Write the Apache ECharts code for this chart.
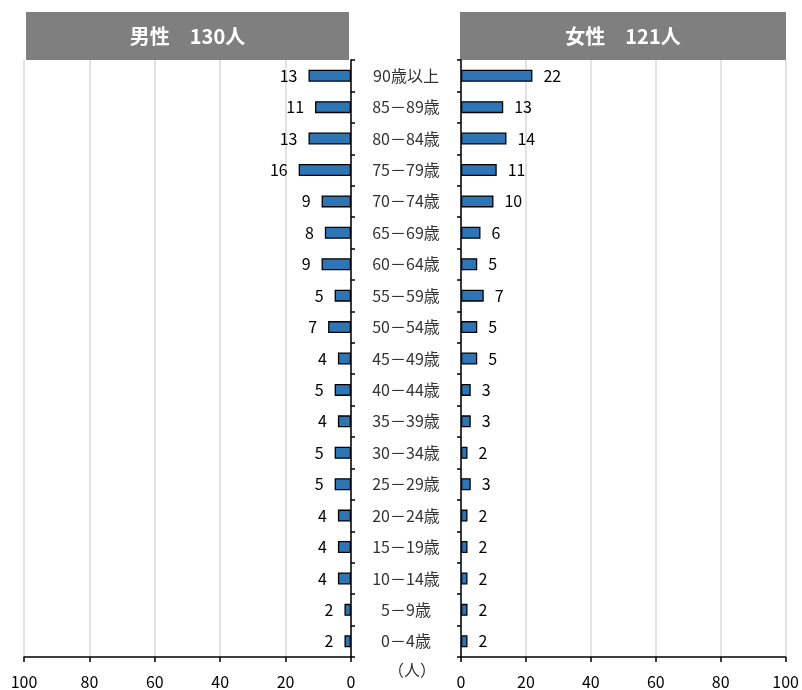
<!DOCTYPE html>
<html>
<head>
<meta charset="utf-8">
<script src="https://cdn.jsdelivr.net/npm/echarts@6/dist/echarts.min.js"></script>
<style>
    html, body { margin: 0; padding: 0; background: #fff; }
    #chart { width: 802px; height: 690px; }
</style>
</head>
<body>
<div id="chart"></div>
<script>
const ageGroups = ['90歳以上', '85－89歳', '80－84歳', '75－79歳', '70－74歳', '65－69歳', '60－64歳',
    '55－59歳', '50－54歳', '45－49歳', '40－44歳', '35－39歳', '30－34歳', '25－29歳',
    '20－24歳', '15－19歳', '10－14歳', '5－9歳', '0－4歳'];
const maleCounts = [13, 11, 13, 16, 9, 8, 9, 5, 7, 4, 5, 4, 5, 5, 4, 4, 4, 2, 2];
const femaleCounts = [22, 13, 14, 11, 10, 6, 5, 7, 5, 5, 3, 3, 2, 3, 2, 2, 2, 2, 2];
const maleTitle = '男性　130人';
const femaleTitle = '女性　121人';
const unitLabel = '（人）';

const font = '"Noto Sans CJK JP", "Noto Sans", sans-serif';

const chart = echarts.init(document.getElementById('chart'));

const valueAxis = (gridIndex, inverse) => ({
    type: 'value',
    gridIndex,
    inverse,
    min: 0,
    max: 100,
    interval: 20,
    axisLine: { show: true, lineStyle: { color: '#000', width: 1.5 } },
    axisTick: { show: true, length: 5, lineStyle: { color: '#000', width: 1.5 } },
    axisLabel: { color: '#000', fontSize: 16, fontFamily: font, margin: 17 },
    splitLine: { show: true, lineStyle: { color: '#d9d9d9', width: 1.5 } }
});

const catAxis = (gridIndex, position, showLabel) => ({
    type: 'category',
    gridIndex,
    position,
    inverse: true,
    data: ageGroups,
    axisLine: { show: true, lineStyle: { color: '#000', width: 1.5 } },
    axisTick: { show: true, length: 4, lineStyle: { color: '#000', width: 1.5 } },
    axisLabel: {
        show: showLabel,
        align: 'center',
        margin: 55,
        color: '#333',
        fontSize: 16,
        fontFamily: font
    }
});

const barStyle = {
    color: '#2e75b6',
    borderColor: '#000',
    borderWidth: 1.3
};

const header = (x, w, text) => ({
    type: 'group',
    left: x,
    top: 12,
    children: [
        { type: 'rect', shape: { x: 0, y: 0, width: w, height: 48 }, style: { fill: '#7f7f7f' } },
        {
            type: 'text',
            x: w / 2,
            y: 24,
            style: {
                text,
                fill: '#fff',
                font: 'bold 20px ' + font,
                align: 'center',
                verticalAlign: 'middle'
            }
        }
    ]
});

chart.setOption({
    animation: false,
    grid: [
        { left: 24, right: 451, top: 60, bottom: 32 },
        { left: 461, right: 15, top: 60, bottom: 32 }
    ],
    xAxis: [valueAxis(0, true), valueAxis(1, false)],
    yAxis: [catAxis(0, 'right', true), catAxis(1, 'left', false)],
    series: [
        {
            type: 'bar',
            xAxisIndex: 0,
            yAxisIndex: 0,
            data: maleCounts,
            barWidth: 12,
            itemStyle: barStyle,
            label: { show: true, position: 'left', distance: 11, color: '#000', fontSize: 16, fontFamily: font }
        },
        {
            type: 'bar',
            xAxisIndex: 1,
            yAxisIndex: 1,
            data: femaleCounts,
            barWidth: 12,
            itemStyle: barStyle,
            label: { show: true, position: 'right', distance: 11, color: '#000', fontSize: 16, fontFamily: font }
        }
    ],
    graphic: [
        header(26, 323, maleTitle),
        header(460, 326, femaleTitle),
        {
            type: 'text',
            left: 388,
            top: 662,
            style: { text: unitLabel, fill: '#333', font: '16px ' + font }
        }
    ]
});
</script>
</body>
</html>
